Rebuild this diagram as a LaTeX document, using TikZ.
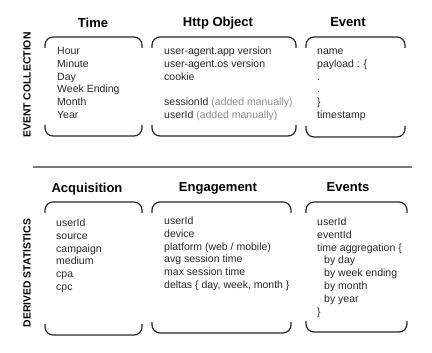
\documentclass[tikz,border=0pt]{standalone}
\usepackage{fontspec}
\setmainfont{Liberation Sans}
\usepackage{xcolor}
\usetikzlibrary{positioning}

\definecolor{inkgray}{HTML}{262626}
\definecolor{notegray}{HTML}{8A8A8A}
\definecolor{rulegray}{HTML}{7A7A7A}

\tikzset{
	title/.style={font=\bfseries\fontsize{13}{15}\selectfont, anchor=center, inner sep=0pt},
	body/.style={font=\fontsize{10.5}{12.9}\selectfont, align=left, anchor=north west, inner sep=0pt, text=inkgray},
	sidelabel/.style={font=\bfseries\fontsize{10.4}{12}\selectfont, rotate=90, inner sep=0pt},
	brace/.style={line width=1.2pt, rounded corners=8pt, draw=inkgray},
	separator/.style={line width=2pt, draw=rulegray}
}

% top and bottom brackets of a box: left, right, top, bottom
\newcommand{\boxbrace}[4]{%
	\draw[brace] (#1,#3+11) -- (#1,#3) -- (#2,#3) -- (#2,#3+11);
	\draw[brace] (#1,#4-11) -- (#1,#4) -- (#2,#4) -- (#2,#4-11);
}
\newcommand{\addednote}{\textcolor{notegray}{(added manually)}}

\begin{document}
\begin{tikzpicture}[x=1pt, y=-1pt]
	\useasboundingbox (0,0) rectangle (432,353);

	% Event collection:
	\node[sidelabel] (collect) at (27,85) {EVENT COLLECTION};
	\node[title] (timetitle) at (93,23) {Time};
	\node[title] (httptitle) at (218,23) {Http Object};
	\node[title] (eventtitle) at (348,22) {Event};
	\boxbrace{45}{142}{37}{136}
	\boxbrace{152}{296}{37}{136}
	\boxbrace{306}{405}{37}{137}
	\node[body] (timebody) at (57,45) {\strut Hour\\Minute\\Day\\Week Ending\\Month\\Year};
	\node[body] (httpbody) at (164,45) {\strut user-agent.app version\\user-agent.os version\\cookie\\[12.9pt]sessionId \addednote\\userId \addednote};
	\node[body] (eventbody) at (317,45) {\strut name\\payload : \{\\.\\.\\\}\\timestamp};

	% Separator:
	\coordinate (sepleft) at (33,167);
	\coordinate (sepright) at (412,167);
	\draw[separator] (sepleft) -- (sepright);

	% Derived statistics:
	\node[sidelabel] (derived) at (27,273) {DERIVED STATISTICS};
	\node[title] (acqtitle) at (87,189) {Acquisition};
	\node[title] (engtitle) at (218,188) {Engagement};
	\node[title] (evstitle) at (348,187) {Events};
	\boxbrace{45}{142}{202}{335}
	\boxbrace{152}{291}{202}{333}
	\boxbrace{306}{407}{202}{332}
	\node[body] (acqbody) at (56,217) {\strut userId\\source\\campaign\\medium\\cpa\\cpc};
	\node[body] (engbody) at (164,215) {\strut userId\\device\\platform (web / mobile)\\avg session time\\max session time\\deltas \{ day, week, month \}};
	\node[body] (evsbody) at (317,216) {\strut userId\\eventId\\time aggregation \{\\\hspace*{7pt}by day\\\hspace*{7pt}by week ending\\\hspace*{7pt}by month\\\hspace*{7pt}by year\\\}};
\end{tikzpicture}
\end{document}
